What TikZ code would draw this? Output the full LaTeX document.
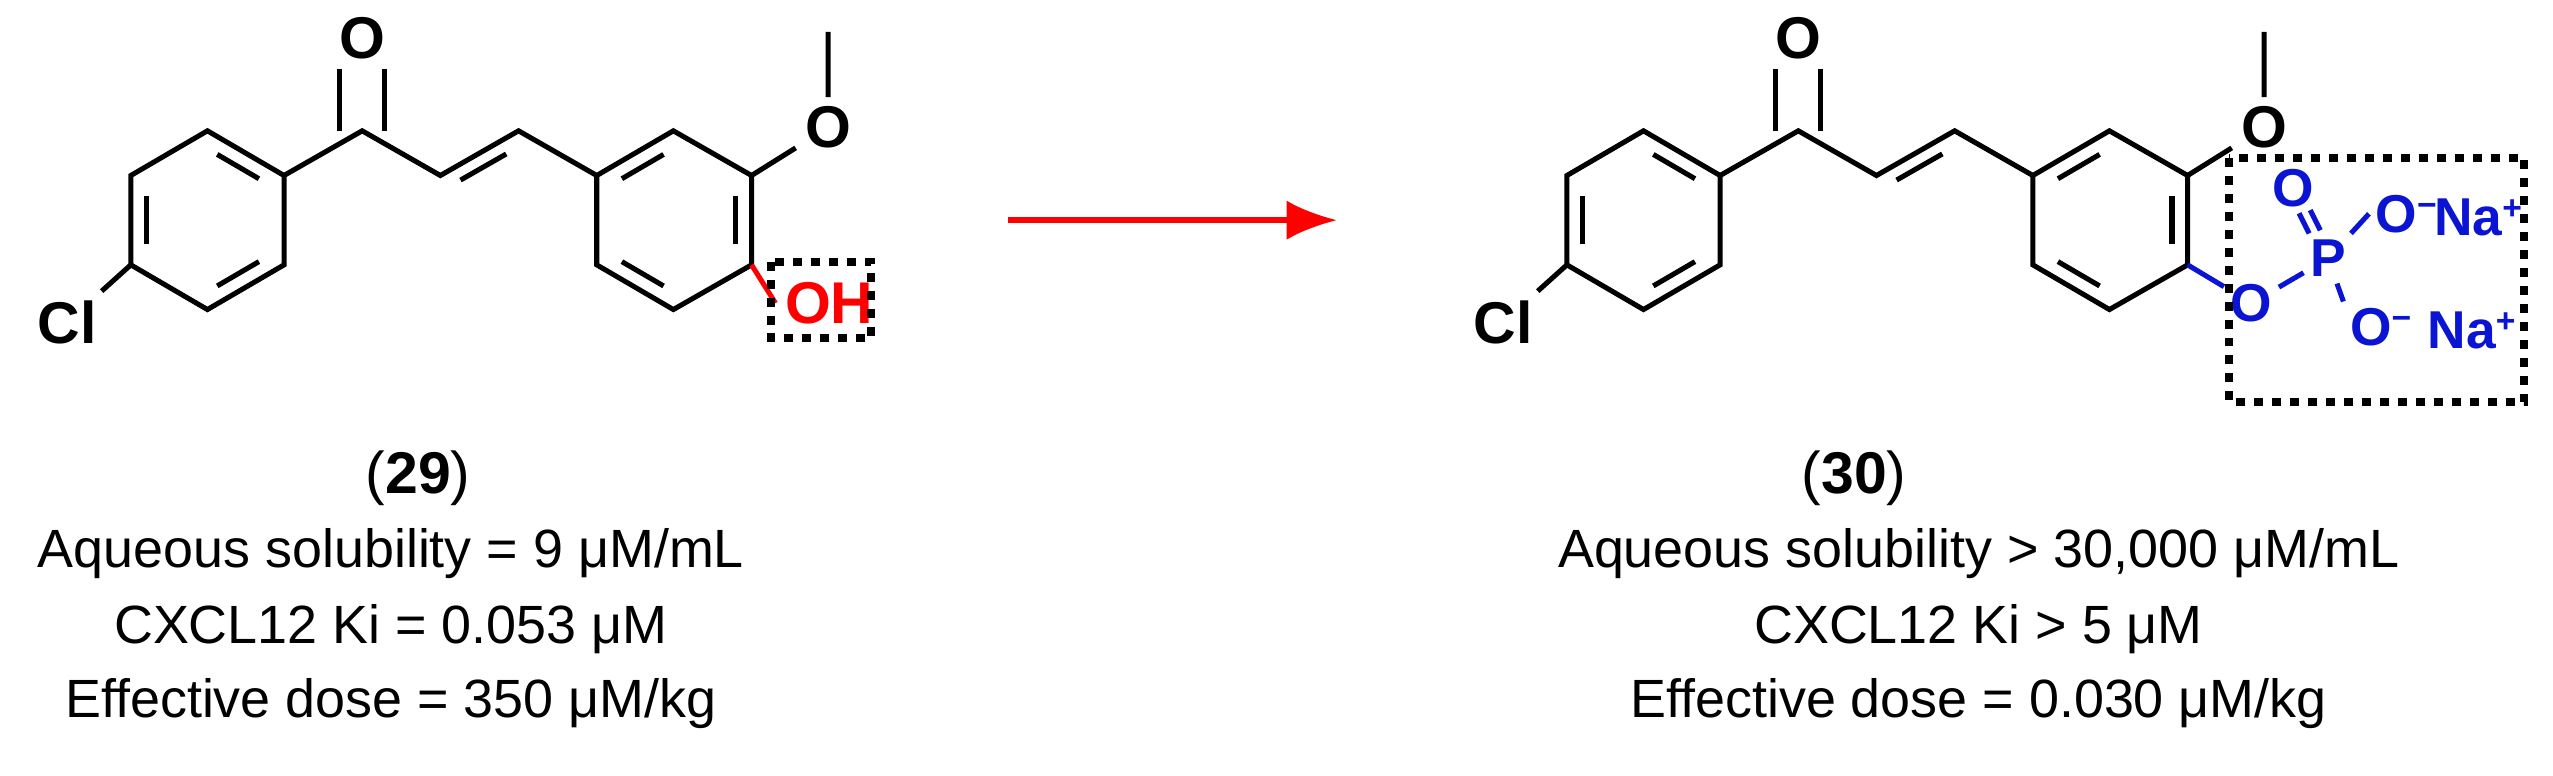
\documentclass[tikz,border=0pt]{standalone}
\usepackage{fontspec}
\setmainfont{Liberation Sans}
\usetikzlibrary{calc,arrows.meta}
\tikzset{>=Latex,
  bond/.style={line width=0.9pt},
  atom/.style={inner sep=1.5pt, font=\fontsize{10.5}{12}\selectfont\bfseries},
  patom/.style={atom, pblue, inner sep=1pt, font=\fontsize{9.5}{11}\selectfont\bfseries},
  boxline/.style={line width=1.4pt, dash pattern=on 1.6pt off 1.6pt},
  info/.style={font=\fontsize{9.6}{11}\selectfont}}
\definecolor{pblue}{RGB}{10,20,210}
\newcommand{\chg}[1]{\raisebox{0.55ex}{\fontsize{6}{6}\selectfont #1}}

\begin{document}
\begin{tikzpicture}[x=0.01cm, y=-0.01cm]
    \useasboundingbox (0,0) rectangle (1600,486);

    % two chalcone skeletons
    \foreach \m/\dx in {a/0, b/900} {
    \begin{scope}[xshift=\dx*0.01cm]
    \coordinate (\m1t) at (130,82);  \coordinate (\m1ur) at (178,110);
    \coordinate (\m1lr) at (178,166); \coordinate (\m1b) at (130,194);
    \coordinate (\m1ll) at (82,166);  \coordinate (\m1ul) at (82,110);
    \coordinate (\m1c) at (130,138);
    \coordinate (\m co) at (227,82);
    \coordinate (\m ca) at (276,110); \coordinate (\m cb) at (325,82);
    \coordinate (\m dc) at (318,158);
    \coordinate (\m2ul) at (374,110); \coordinate (\m2t) at (422,82);
    \coordinate (\m2ur) at (471,110); \coordinate (\m2lr) at (471,166);
    \coordinate (\m2b) at (422,194);  \coordinate (\m2ll) at (374,166);
    \coordinate (\m2c) at (422,138);
    \node[atom] (\m cl) at (42,202) {Cl};
    \node[atom] (\m ox) at (227,24) {O};
    \node[atom] (\m ome) at (519,80) {O};
    \coordinate (\m me) at (519,20);

    \draw[bond] (\m1t) -- (\m1ur) -- (\m1lr) -- (\m1b) -- (\m1ll) -- (\m1ul) -- cycle;
    \draw[bond] (\m2t) -- (\m2ur) -- (\m2lr) -- (\m2b) -- (\m2ll) -- (\m2ul) -- cycle;
    \draw[bond] (\m1ll) -- (\m cl);
    \draw[bond] (\m1ur) -- (\m co) -- (\m ca) -- (\m cb) -- (\m2ul);
    \draw[bond] (\m2ur) -- (\m ome) -- (\m me);
    \draw[bond] ([xshift=-4]\m co) -- ([xshift=-4]\m ox.south);
    \draw[bond] ([xshift=4]\m co) -- ([xshift=4]\m ox.south);
    \draw[bond] ($(\m ca)!.16!(\m cb)!.14!(\m dc)$) -- ($(\m cb)!.16!(\m ca)!.14!(\m dc)$);
    \foreach \p/\q/\c in {1t/1ur/1c, 1ll/1ul/1c, 1lr/1b/1c, 2ul/2t/2c, 2ur/2lr/2c, 2b/2ll/2c}
      \draw[bond] ($(\m\p)!.16!(\m\q)!.2!(\m\c)$) -- ($(\m\q)!.16!(\m\p)!.2!(\m\c)$);
    \end{scope}
    }

    % hydroxyl of 29
    \node[atom, red, anchor=west] (oh) at (486,190) {OH};
    \draw[bond, red] (a2lr) -- (oh.west);
    \draw[boxline] (483,164) rectangle (546,212);

    % phosphate of 30
    \node[patom] (po) at (1411,190) {O};
    \node[patom] (pp) at (1459,162) {P};
    \node[patom] (pdo) at (1437,118) {O};
    \node[patom] (po1) at (1508,134) {O\chg{−}};
    \node[patom] (po2) at (1492,205) {O\chg{−}};
    \node[patom] (na1) at (1553,136) {Na\chg{+}};
    \node[patom] (na2) at (1549,207) {Na\chg{+}};
    \draw[bond, pblue] (b2lr) -- (po) -- (pp) -- (po1.west);
    \draw[bond, pblue] (pp) -- (po2.north west);
    \draw[bond, pblue, shorten <=9, shorten >=9] ($(pp)+(-4,0)$) -- ($(pdo)+(-4,0)$);
    \draw[bond, pblue, shorten <=9, shorten >=9] ($(pp)+(3,-2)$) -- ($(pdo)+(3,-2)$);
    \draw[boxline] (1397,99) rectangle (1582,252);

    % reaction arrow
    \coordinate (arl) at (632,138);
    \coordinate (arr) at (838,138);
    \draw[-{Latex[length=9pt,width=7pt]}, red, line width=1pt] (arl) -- (arr);

    % captions
    \node[info, font=\fontsize{10.5}{12}\selectfont] (lab29) at (262,300) {(\textbf{29})};
    \node[info] (a29) at (245,347) {Aqueous solubility = 9 μM/mL};
    \node[info] (k29) at (245,394) {CXCL12 Ki = 0.053 μM};
    \node[info] (d29) at (245,441) {Effective dose = 350 μM/kg};
    \node[info, font=\fontsize{10.5}{12}\selectfont] (lab30) at (1162,300) {(\textbf{30})};
    \node[info] (a30) at (1240,347) {Aqueous solubility > 30,000 μM/mL};
    \node[info] (k30) at (1240,394) {CXCL12 Ki > 5 μM};
    \node[info] (d30) at (1240,441) {Effective dose = 0.030 μM/kg};
\end{tikzpicture}
\end{document}
